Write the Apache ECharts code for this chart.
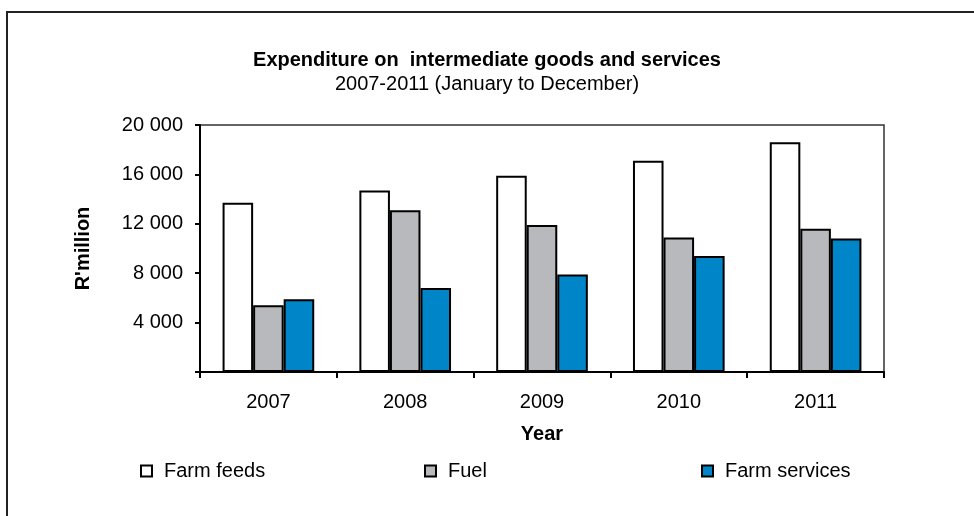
<!DOCTYPE html>
<html>
<head>
<meta charset="utf-8">
<script src="https://cdn.jsdelivr.net/npm/echarts@6/dist/echarts.min.js"></script>
<style>
html,body{margin:0;padding:0;background:#fff;}
#main{width:974px;height:516px;}
</style>
</head>
<body>
<div id="main"></div>
<script>
var years = ['2007', '2008', '2009', '2010', '2011'];
var farmFeeds = [13700, 14700, 15900, 17100, 18600];
var fuel = [5400, 13100, 11900, 10900, 11600];
var farmServices = [5900, 6800, 7900, 9400, 10800];
var yTickValues = [0, 4000, 8000, 12000, 16000, 20000];
var seriesNames = ['Farm feeds', 'Fuel', 'Farm services'];

var FONT = 'Liberation Sans, Arial, sans-serif';
var FS = 20;
function fmt(v) {
  if (v === 0) return '';
  var s = String(v);
  return s.replace(/\B(?=(\d{3})+(?!\d))/g, ' ');
}
var chart = echarts.init(document.getElementById('main'));
var barStyle = function (c) {
  return { color: c, borderColor: '#000', borderWidth: 2 };
};
var legendBase = function (name, left) {
  return {
    data: [name], left: left, top: 456, itemWidth: 11, itemHeight: 11,
    icon: 'rect', selectedMode: false,
    itemStyle: { borderColor: '#000', borderWidth: 2 },
    textStyle: { fontFamily: FONT, fontSize: FS, color: '#000', padding: [0, 0, 0, 7] }
  };
};
chart.setOption({
  animation: false,
  backgroundColor: '#fff',
  graphic: [{
    type: 'rect', shape: { x: 7, y: 12, width: 1000, height: 700 },
    style: { fill: 'none', stroke: '#222', lineWidth: 2 }, silent: true
  }],
  title: {
    text: 'Expenditure on  intermediate goods and services',
    subtext: '2007-2011 (January to December)',
    left: 'center', top: 45, itemGap: 4,
    textStyle: { fontFamily: FONT, fontSize: FS, fontWeight: 'bold', color: '#000' },
    subtextStyle: { fontFamily: FONT, fontSize: FS, color: '#000' }
  },
  legend: [
    legendBase(seriesNames[0], 135),
    legendBase(seriesNames[1], 419),
    legendBase(seriesNames[2], 696)
  ],
  grid: {
    left: 200, top: 125, width: 684, height: 247,
    show: true, borderColor: '#333', borderWidth: 1.5
  },
  xAxis: {
    type: 'category', data: years,
    name: 'Year', nameLocation: 'middle', nameGap: 52,
    nameTextStyle: { fontFamily: FONT, fontSize: FS, fontWeight: 'bold', color: '#000' },
    axisLine: { lineStyle: { color: '#000', width: 2 } },
    axisTick: { show: true, length: 6, lineStyle: { color: '#000', width: 2 } },
    axisLabel: { fontFamily: FONT, fontSize: FS, color: '#000', margin: 20 }
  },
  yAxis: {
    type: 'value', min: yTickValues[0], max: yTickValues[yTickValues.length - 1], interval: 4000,
    name: "R'million", nameLocation: 'middle', nameGap: 107, nameMoveOverlap: false,
    nameTextStyle: { fontFamily: FONT, fontSize: FS, fontWeight: 'bold', color: '#000' },
    axisLine: { show: true, lineStyle: { color: '#000', width: 2 } },
    axisTick: { show: true, length: 5, lineStyle: { color: '#000', width: 2 } },
    splitLine: { show: false },
    axisLabel: { fontFamily: FONT, fontSize: FS, color: '#000', margin: 17, formatter: fmt }
  },
  series: [
    { name: seriesNames[0], type: 'bar', data: farmFeeds, barGap: '0%', barCategoryGap: '33%', itemStyle: barStyle('#ffffff') },
    { name: seriesNames[1], type: 'bar', data: fuel, barGap: '0%', barCategoryGap: '33%', itemStyle: barStyle('#b8b9bc') },
    { name: seriesNames[2], type: 'bar', data: farmServices, barGap: '0%', barCategoryGap: '33%', itemStyle: barStyle('#0085c8') }
  ]
});
</script>
</body>
</html>
